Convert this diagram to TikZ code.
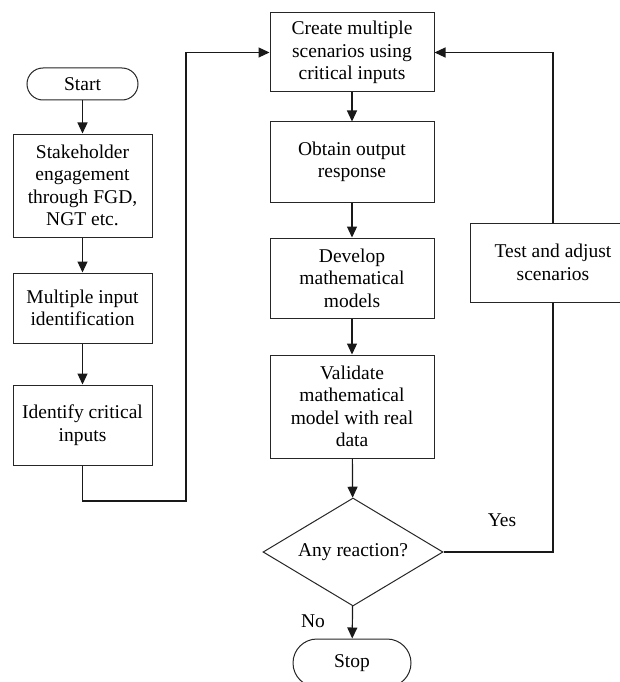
\documentclass[tikz,border=0pt]{standalone}
\usepackage{fontspec}
\setmainfont{Liberation Serif}
\usetikzlibrary{shapes.geometric,arrows.meta}
\begin{document}
\begin{tikzpicture}[x=1pt,y=-1pt,
  every node/.style={font=\fontsize{19.5}{22.5}\selectfont, text=black},
  box/.style={draw=black!85, line width=1pt, rectangle, align=center, inner sep=0pt},
  pill/.style={box},
  decision/.style={draw=black!85, line width=1pt, diamond, aspect=1.667, inner sep=0pt, minimum width=180pt, minimum height=108pt},
  arr/.style={-{Triangle[length=11pt,width=10pt]}, line width=1.2pt, draw=black!90},
  plainline/.style={line width=1.2pt, draw=black!90},
  lbl/.style={inner sep=0pt}
]
\clip (0,0) rectangle (620,682);
\fill[white] (0,0) rectangle (620,682);
% left column
\node[pill, rounded corners=16pt, minimum width=111pt, minimum height=32pt] (start) at (82.5,84) {Start};
\node[box, minimum width=139pt, minimum height=103pt] (stake) at (82.5,185.5) {Stakeholder\\engagement\\through FGD,\\NGT etc.};
\node[box, minimum width=139pt, minimum height=70pt] (multi) at (82.5,308) {Multiple input\\identification};
\node[box, minimum width=139pt, minimum height=80pt] (ident) at (82.5,425) {Identify critical\\inputs};
% middle column
\node[box, minimum width=164pt, minimum height=79pt] (create) at (352,52.5) {Create multiple\\scenarios using\\critical inputs};
\node[box, minimum width=164pt, minimum height=80pt] (obtain) at (352,162) {Obtain output\\response};
\node[box, minimum width=164pt, minimum height=80pt] (develop) at (352,278) {Develop\\mathematical\\models};
\node[box, minimum width=164pt, minimum height=103pt] (validate) at (352,406.5) {Validate\\mathematical\\model with real\\data};
\node[decision] (dec) at (353,552) {Any reaction?};
\node[pill, rounded corners=24pt, minimum width=118pt, minimum height=48pt] (stop) at (352,663) {Stop};
% right
\node[box, minimum width=166pt, minimum height=79pt] (test) at (553,262.5) {Test and adjust\\scenarios};
% labels
\node[lbl] (yes) at (502,520) {Yes};
\node[lbl] (no) at (313,621) {No};
% helper coordinates
\coordinate (c1) at (82.5,501);
\coordinate (c2) at (186,501);
\coordinate (c3) at (186,52.5);
\coordinate (c4) at (553,552);
\coordinate (c5) at (553,52.5);
% connectors
\draw[arr] (start) -- (stake);
\draw[arr] (stake) -- (multi);
\draw[arr] (multi) -- (ident);
\draw[arr] (ident.south) -- (c1) -- (c2) -- (c3) -- (create.west);
\draw[arr] (create) -- (obtain);
\draw[arr] (obtain) -- (develop);
\draw[arr] (develop) -- (validate);
\draw[arr] (validate) -- (dec);
\draw[arr] (dec) -- (stop);
\draw[plainline] (dec.east) -- (c4) -- (test.south);
\draw[arr] (test.north) -- (c5) -- (create.east);
\end{tikzpicture}
\end{document}
